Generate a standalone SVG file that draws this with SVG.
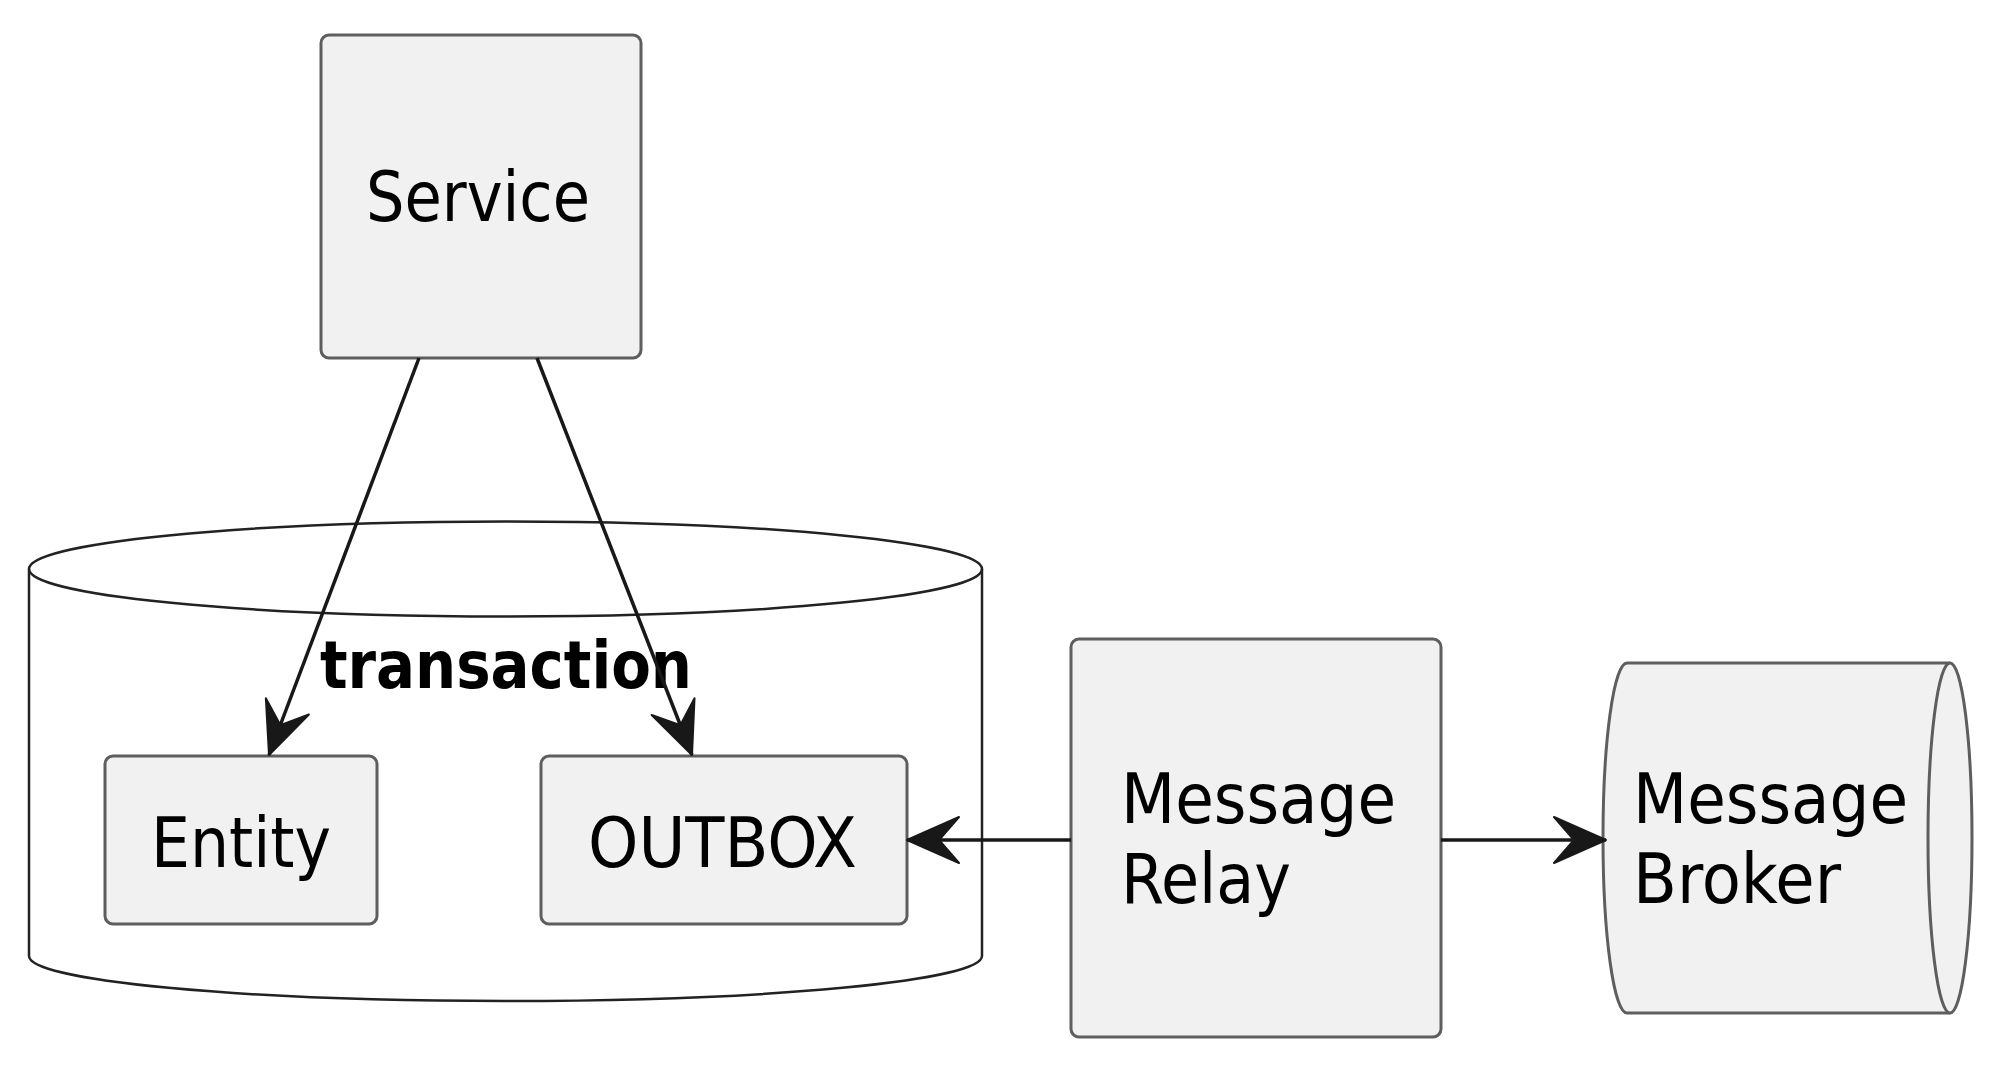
<svg xmlns="http://www.w3.org/2000/svg" width="2000" height="1073" viewBox="0 0 2000 1073">
  <defs>
    <style>
      .node { fill: #F1F1F1; stroke: #5E5E5E; stroke-width: 3; }
      .db { fill: none; stroke: #222222; stroke-width: 2.5; }
      .lbl { font-family: "DejaVu Sans Condensed", "DejaVu Sans", sans-serif; font-size: 69px; fill: #000000; }
      .title { font-family: "DejaVu Sans Condensed", "DejaVu Sans", sans-serif; font-size: 66px; font-weight: bold; fill: #000000; }
      .edge { fill: none; stroke: #181818; stroke-width: 3.5; }
    </style>
    <marker id="ah" markerUnits="userSpaceOnUse" markerWidth="64" markerHeight="60" viewBox="-58 -30 64 60" refX="0" refY="0" orient="auto">
      <path d="M0,0 L-52,-23 L-32,0 L-52,23 Z" fill="#181818" stroke="#181818" stroke-width="2" stroke-linejoin="round"/>
    </marker>
  </defs>
  <rect width="2000" height="1073" fill="#FFFFFF"/>

  <g id="transaction">
    <path class="db" d="M29,569 L29,956 A476.5,45 0 0 0 982,956 L982,569"/>
    <ellipse class="db" cx="505.5" cy="569" rx="476.5" ry="47.5"/>
    <text class="title" x="320" y="688" textLength="372" lengthAdjust="spacingAndGlyphs">transaction</text>
  </g>

  <g id="service">
    <rect class="node" x="321" y="35" width="320" height="323" rx="8" ry="8"/>
    <text class="lbl" x="366" y="221" textLength="224" lengthAdjust="spacingAndGlyphs">Service</text>
  </g>

  <g id="entity">
    <rect class="node" x="105" y="756" width="272" height="168" rx="8" ry="8"/>
    <text class="lbl" x="151" y="867" textLength="180" lengthAdjust="spacingAndGlyphs">Entity</text>
  </g>

  <g id="outbox">
    <rect class="node" x="541" y="756" width="366" height="168" rx="8" ry="8"/>
    <text class="lbl" x="588" y="867" textLength="269" lengthAdjust="spacingAndGlyphs">OUTBOX</text>
  </g>

  <g id="message-relay">
    <rect class="node" x="1071" y="639" width="370" height="398" rx="8" ry="8"/>
    <text class="lbl" x="1121" y="823" textLength="275" lengthAdjust="spacingAndGlyphs">Message</text>
    <text class="lbl" x="1121" y="903" textLength="170" lengthAdjust="spacingAndGlyphs">Relay</text>
  </g>

  <g id="message-broker">
    <path class="node" d="M1627,663 L1950,663 A22,175 0 0 1 1950,1013 L1627,1013 A24,175 0 0 1 1627,663 Z"/>
    <path class="node" fill="none" d="M1950,663 A22,175 0 0 0 1950,1013"/>
    <text class="lbl" x="1633" y="823" textLength="275" lengthAdjust="spacingAndGlyphs">Message</text>
    <text class="lbl" x="1633" y="903" textLength="208" lengthAdjust="spacingAndGlyphs">Broker</text>
  </g>

  <g id="connectors">
    <line class="edge" x1="419" y1="358" x2="269" y2="755" marker-end="url(#ah)"/>
    <line class="edge" x1="537" y1="358" x2="692" y2="755" marker-end="url(#ah)"/>
    <line class="edge" x1="1071" y1="840" x2="907" y2="840" marker-end="url(#ah)"/>
    <line class="edge" x1="1441" y1="840" x2="1606" y2="840" marker-end="url(#ah)"/>
  </g>
</svg>
